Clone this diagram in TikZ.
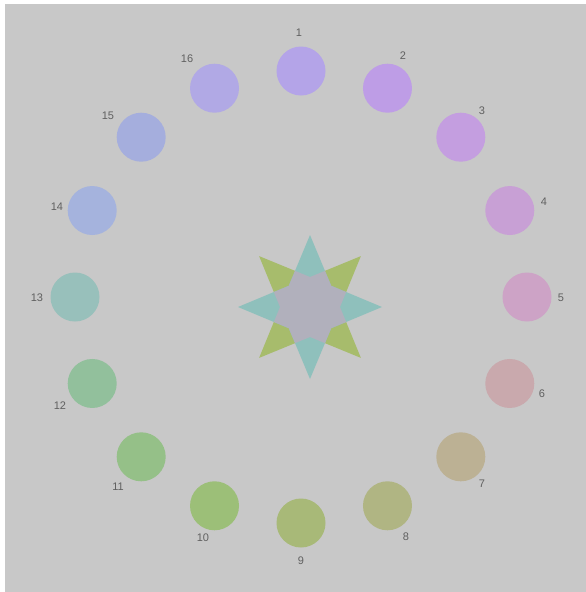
\documentclass[tikz,border=0pt]{standalone}
\usepackage{fontspec}
\setmainfont{Liberation Sans}
\definecolor{bggray}{HTML}{C8C8C8}
\definecolor{labgray}{HTML}{606060}
\definecolor{stargreen}{HTML}{A7BC6C}
\definecolor{starteal}{HTML}{8FC0BC}
\definecolor{stargray}{HTML}{B1B0BC}
\definecolor{c1}{HTML}{B4A4E8}
\definecolor{c2}{HTML}{BE9DE6}
\definecolor{c3}{HTML}{C49EE0}
\definecolor{c4}{HTML}{C8A0D5}
\definecolor{c5}{HTML}{CDA3C6}
\definecolor{c6}{HTML}{C9A9AD}
\definecolor{c7}{HTML}{BCB194}
\definecolor{c8}{HTML}{B0B583}
\definecolor{c9}{HTML}{A8B978}
\definecolor{c10}{HTML}{9CBF78}
\definecolor{c11}{HTML}{95C088}
\definecolor{c12}{HTML}{92C09C}
\definecolor{c13}{HTML}{98C0BB}
\definecolor{c14}{HTML}{A5B3DD}
\definecolor{c15}{HTML}{A5AEDD}
\definecolor{c16}{HTML}{B1A9E5}
\begin{document}
\begin{tikzpicture}[x=1pt,y=-1pt,
  dot/.style={circle,minimum size=49pt,inner sep=0pt},
  lab/.style={text=labgray,inner sep=0pt,font=\fontsize{11}{13}\selectfont}]
\useasboundingbox (0,0) rectangle (586,592);
\fill[white] (0,0) rectangle (586,592);
\fill[bggray] (5,4) rectangle (586,592);
\foreach \i in {1,...,16}{
  \pgfmathsetmacro{\ang}{(\i-1)*22.5}
  \node[dot,fill=c\i] (n\i) at ({301+226*sin(\ang)},{297-226*cos(\ang)}) {};
}
\foreach \i/\x/\y in {1/299/33,2/403/56,3/482/111,4/544/202,5/561/298,6/542/394,
  7/482/484,8/406/537,9/301/561,10/203/538,11/118/487,12/60/406,13/37/298,
  14/57/207,15/108/116,16/187/59}{
  \node[lab] (l\i) at (\x,\y) {\i};
}
\begin{scope}[shift={(310,307)}]
  \fill[stargreen] (45:72) -- (90:30) -- (135:72) -- (180:30) -- (225:72) -- (270:30) -- (315:72) -- (0:30) -- cycle;
  \fill[starteal] (0:72) -- (45:30) -- (90:72) -- (135:30) -- (180:72) -- (225:30) -- (270:72) -- (315:30) -- cycle;
  \begin{scope}
    \clip (0:72) -- (45:30) -- (90:72) -- (135:30) -- (180:72) -- (225:30) -- (270:72) -- (315:30) -- cycle;
    \fill[stargray] (45:72) -- (90:30) -- (135:72) -- (180:30) -- (225:72) -- (270:30) -- (315:72) -- (0:30) -- cycle;
  \end{scope}
\end{scope}
\end{tikzpicture}
\end{document}
